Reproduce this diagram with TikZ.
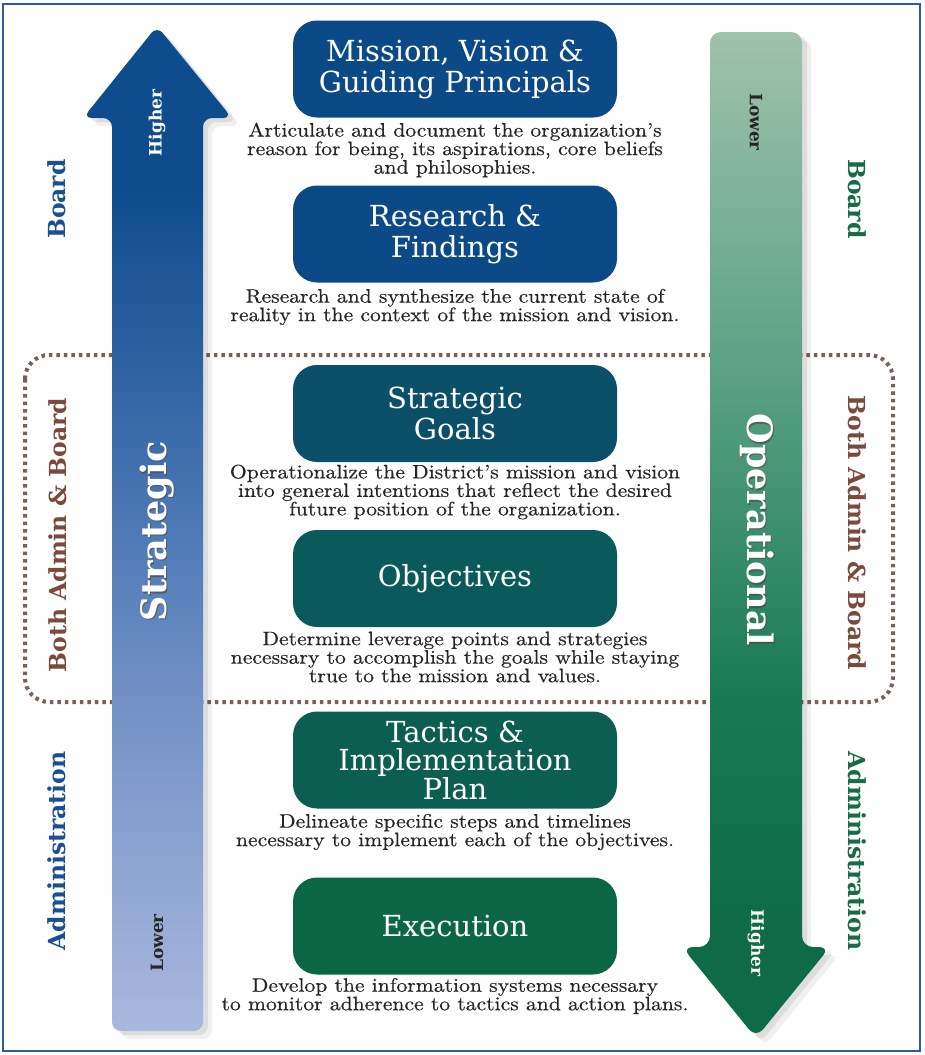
\documentclass[tikz,border=0pt]{standalone}
\usepackage{fontspec}
\newfontfamily\slab{DejaVu Serif}
\newfontfamily\descfont{lmroman10-regular.otf}[FakeStretch=1.11, FakeBold=0.45]
\definecolor{frameblue}{HTML}{2E5C9A}
\definecolor{boxA}{HTML}{0B4A86}
\definecolor{boxC}{HTML}{0C4F69}
\definecolor{boxD}{HTML}{0B5A5B}
\definecolor{boxE}{HTML}{0B5E50}
\definecolor{boxF}{HTML}{0A6645}
\definecolor{labblue}{HTML}{1B4F91}
\definecolor{labgreen}{HTML}{176B48}
\definecolor{labbrown}{HTML}{7A4B3C}
\definecolor{dotbrown}{HTML}{7D5F55}
\definecolor{desctext}{HTML}{262626}
\definecolor{Lone}{HTML}{A9B8DE}
\definecolor{Ltwo}{HTML}{7492C6}
\definecolor{Lthree}{HTML}{4E79B5}
\definecolor{Lfour}{HTML}{2F62A1}
\definecolor{Lfive}{HTML}{0F4C8D}
\definecolor{Gone}{HTML}{9FC2AA}
\definecolor{Gtwo}{HTML}{7FB29A}
\definecolor{Gthree}{HTML}{5FA387}
\definecolor{Gfour}{HTML}{3A8E6D}
\definecolor{Gfive}{HTML}{187A55}
\definecolor{Gsix}{HTML}{0E6A47}
\pgfdeclareverticalshading{stratshade}{100bp}{color(0bp)=(Lone); color(25bp)=(Lone); color(41bp)=(Ltwo); color(50bp)=(Lthree); color(58bp)=(Lfour); color(67bp)=(Lfive); color(100bp)=(Lfive)}
\pgfdeclareverticalshading{operashade}{100bp}{color(0bp)=(Gsix); color(30bp)=(Gsix); color(42bp)=(Gfive); color(50bp)=(Gfour); color(59bp)=(Gthree); color(67bp)=(Gtwo); color(75bp)=(Gone); color(100bp)=(Gone)}
\newcommand{\LArrowShape}[1]{\path[#1] (112,1031) -- (112,118) -- (83,118) -- (157,26) -- (232,118) -- (203,118) -- (203,1031) -- cycle;}
\newcommand{\RArrowShape}[1]{\path[#1] (710,32) -- (802,32) -- (802,947) -- (830,947) -- (756,1038) -- (682,947) -- (710,947) -- cycle;}
\tikzset{
  stepbox/.style={rounded corners=24pt, minimum width=324pt, minimum height=97pt, text=white, font=\slab\fontsize{29}{31}\selectfont, align=center, inner sep=0pt},
  desc/.style={text=desctext, font=\descfont\fontsize{19.5}{18.5}\selectfont, align=center, inner sep=0pt},
  sidelab/.style={font=\slab\bfseries\fontsize{23.5}{24}\selectfont, inner sep=0pt},
  arrlab/.style={font=\slab\bfseries\fontsize{17}{18}\selectfont, inner sep=0pt},
  biglab/.style={font=\slab\bfseries\fontsize{35}{36}\selectfont, inner sep=0pt},
}
\begin{document}
\begin{tikzpicture}[x=1pt,y=-1pt]
\useasboundingbox (0,0) rectangle (924,1055);
\fill[white] (0,0) rectangle (924,1055);
\draw[frameblue, line width=2pt] (3,4) rectangle (920,1051);
% dotted region
\draw[dotbrown, line width=4pt, dash pattern=on 3.5pt off 4pt, rounded corners=24pt] (25,355) rectangle (893,702);
% arrow shadows
\LArrowShape{fill=black, opacity=0.06, rounded corners=9pt, shift={(9,8)}}
\LArrowShape{fill=black, opacity=0.08, rounded corners=9pt, shift={(5,4)}}
\RArrowShape{fill=black, opacity=0.06, rounded corners=9pt, shift={(9,8)}}
\RArrowShape{fill=black, opacity=0.08, rounded corners=9pt, shift={(5,4)}}
% arrows
\LArrowShape{shading=stratshade, rounded corners=9pt}
\RArrowShape{shading=operashade, rounded corners=11pt}
% arrow labels
\node[arrlab, text=white, rotate=90] (lhigh) at (157,123) {Higher};
\node[arrlab, text=black!85, rotate=90] (llow) at (157,943) {Lower};
\node[arrlab, text=black!85, rotate=-90] (rlow) at (756,122) {Lower};
\node[arrlab, text=white, rotate=-90] (rhigh) at (756,943) {Higher};
\node[biglab, text=black!70, opacity=0.7, rotate=90] (stratsh) at (158.5,532.5) {Strategic};
\node[biglab, text=white, rotate=90] (strat) at (157,531) {Strategic};
\node[biglab, text=black!70, opacity=0.7, rotate=-90] (opersh) at (758.5,531.5) {Operational};
\node[biglab, text=white, rotate=-90] (oper) at (757,530) {Operational};
% side labels
\node[sidelab, text=labblue, rotate=90] (lboard) at (57,199) {Board};
\node[sidelab, text=labbrown, rotate=90] (lboth) at (58,535) {Both Admin \& Board};
\node[sidelab, text=labblue, rotate=90] (ladmin) at (57,851) {Administration};
\node[sidelab, text=labgreen, rotate=-90] (rboard) at (857,199) {Board};
\node[sidelab, text=labbrown, rotate=-90] (rboth) at (857,533) {Both Admin \& Board};
\node[sidelab, text=labgreen, rotate=-90] (radmin) at (857,851) {Administration};
% boxes
\node[stepbox, fill=boxA] (mission) at (455,69) {Mission, Vision \&\\Guiding Principals};
\node[desc] (missiond) at (455,150) {Articulate and document the organization’s\\reason for being, its aspirations, core beliefs\\and philosophies.};
\node[stepbox, fill=boxA] (research) at (455,234) {Research \&\\Findings};
\node[desc] (researchd) at (455,307) {Research and synthesize the current state of\\reality in the context of the mission and vision.};
\node[stepbox, fill=boxC] (goals) at (455,413.5) {Strategic\\Goals};
\node[desc] (goalsd) at (455,492) {Operationalize the District’s mission and vision\\into general intentions that reflect the desired\\future position of the organization.};
\node[stepbox, fill=boxD] (objectives) at (455,578.5) {Objectives};
\node[desc] (objectivesd) at (455,657) {Determine leverage points and strategies\\necessary to accomplish the goals while staying\\true to the mission and values.};
\node[stepbox, fill=boxE, font=\slab\fontsize{29}{28.5}\selectfont] (tactics) at (455,760) {Tactics \&\\Implementation\\Plan};
\node[desc] (tacticsd) at (455,832) {Delineate specific steps and timelines\\necessary to implement each of the objectives.};
\node[stepbox, fill=boxF] (execution) at (455,926) {Execution};
\node[desc] (executiond) at (455,996) {Develop the information systems necessary\\to monitor adherence to tactics and action plans.};
\end{tikzpicture}
\end{document}
